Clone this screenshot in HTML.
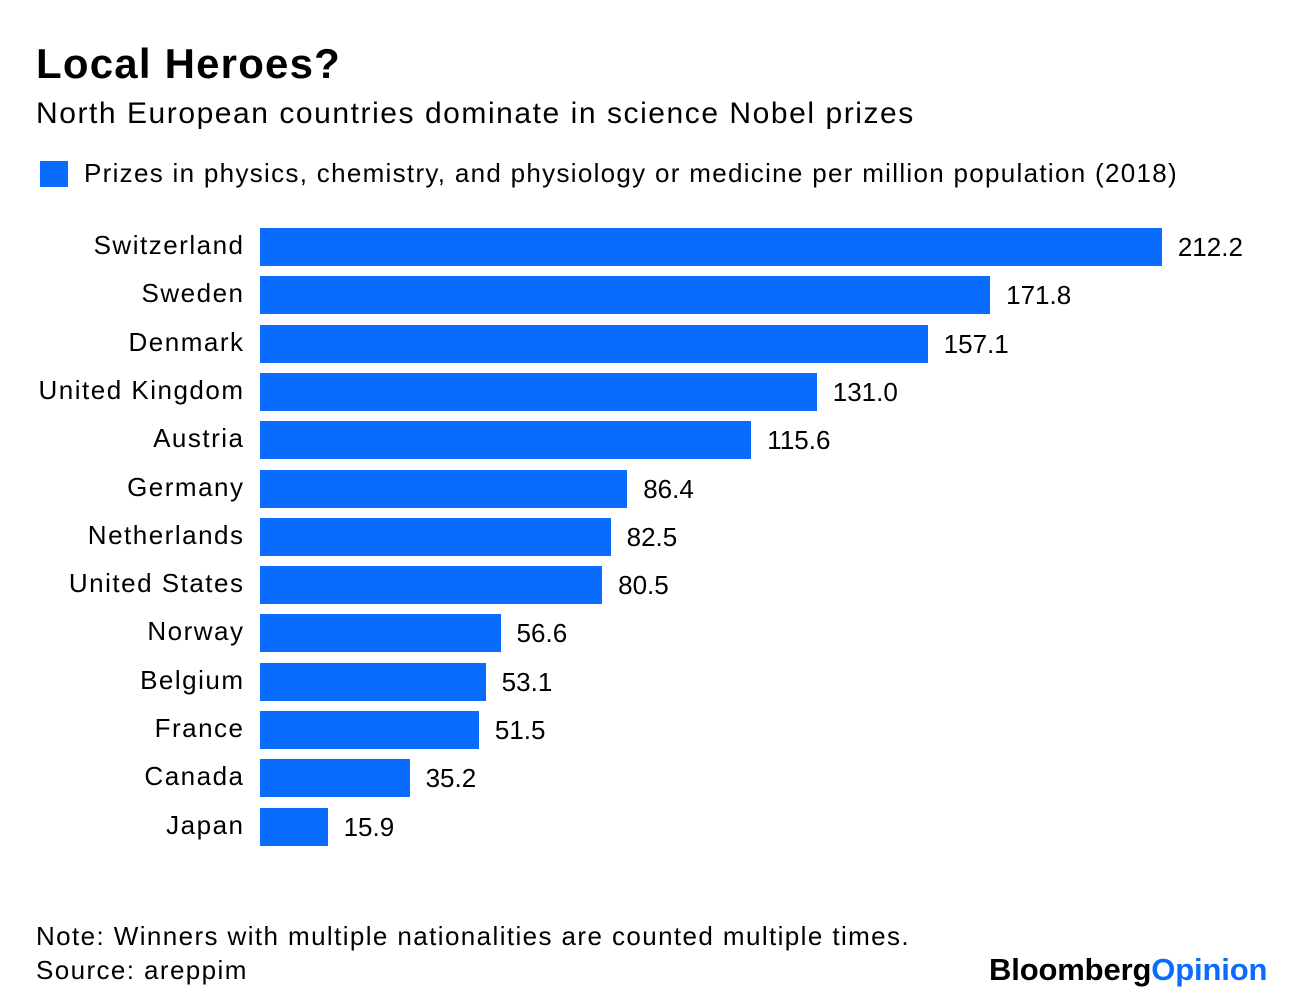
<!DOCTYPE html>
<html><head><meta charset="utf-8"><style>
body{margin:0;width:1296px;height:1002px;background:#fff;font-family:"Liberation Sans",sans-serif;color:#000;position:relative;overflow:hidden}
.a{position:absolute;white-space:nowrap}
.bar{position:absolute;left:260px;height:38px;background:#0a6cff}
.lab{position:absolute;right:1053px;font-size:26px;line-height:38px;letter-spacing:1.5px;margin-right:-1.5px}
.val{position:absolute;font-size:26px;line-height:38px}
</style></head><body>
<div class="a" style="left:36px;top:40px;font-size:42px;font-weight:bold;letter-spacing:1.2px">Local Heroes?</div>
<div class="a" style="left:36px;top:97px;font-size:30px;letter-spacing:1.55px">North European countries dominate in science Nobel prizes</div>
<div class="a" style="left:40px;top:161px;width:28px;height:26px;background:#0a6cff"></div>
<div class="a" style="left:84px;top:158px;font-size:26px;letter-spacing:1.3px">Prizes in physics, chemistry, and physiology or medicine per million population (2018)</div>
<div id="c"></div>
<div class="a" style="left:36px;top:921px;font-size:26px;letter-spacing:1.4px">Note: Winners with multiple nationalities are counted multiple times.</div>
<div class="a" style="left:36px;top:955px;font-size:26px;letter-spacing:1.4px">Source: areppim</div>
<div class="a" style="left:989px;top:952px;font-size:31px;font-weight:bold;letter-spacing:-0.15px">Bloomberg<span style="color:#0a6cff">Opinion</span></div>
<script>
var d=[["Switzerland",212.2],["Sweden",171.8],["Denmark",157.1],["United Kingdom",131.0],["Austria",115.6],["Germany",86.4],["Netherlands",82.5],["United States",80.5],["Norway",56.6],["Belgium",53.1],["France",51.5],["Canada",35.2],["Japan",15.9]];
var h="";d.forEach(function(r,i){var y=228+i*48.3;var w=r[1]*4.25;
h+='<div class="lab" style="top:'+(y-2)+'px">'+r[0]+'</div><div class="bar" style="top:'+y+'px;width:'+w+'px"></div><div class="val" style="top:'+y+'px;left:'+(260+w+16)+'px">'+r[1].toFixed(1)+'</div>';});
document.getElementById("c").innerHTML=h;
</script>
</body></html>
